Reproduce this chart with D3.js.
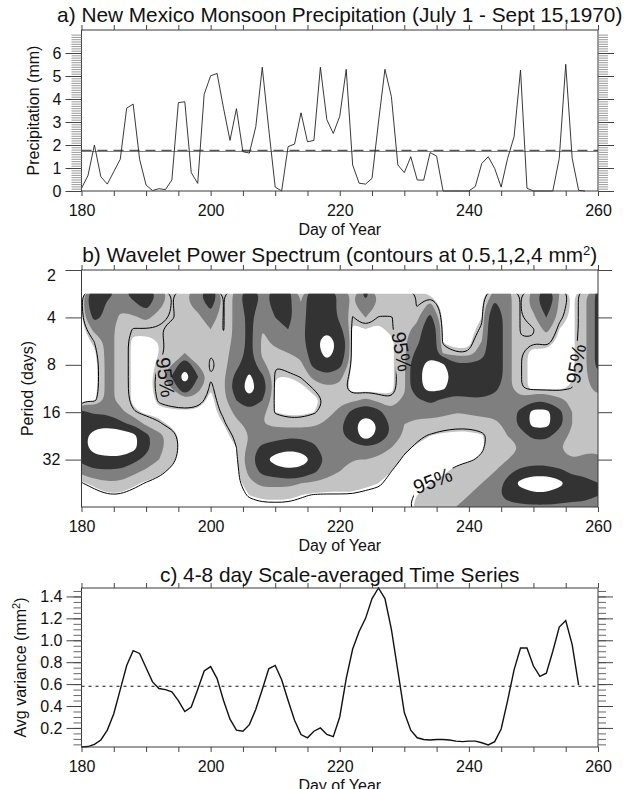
<!DOCTYPE html>
<html>
<head>
<meta charset="utf-8">
<script src="https://cdn.jsdelivr.net/npm/d3@7"></script>
<style>
  body { margin: 0; background: #fff; }
  svg text { font-family: "Liberation Sans", Arial, Helvetica, sans-serif; fill: #111; }
</style>
</head>
<body>
<svg id="chart" width="625" height="789"></svg>
<script>
// ---- values ----
const dayStart = 180;

// daily precipitation (mm), day 180 .. 258
const precip = [0.12, 0.67, 2.0, 0.62, 0.3, 0.84, 1.38, 3.6, 3.78, 1.38,
  0.26, 0.02, 0.1, 0.06, 0.48, 3.84, 3.88, 0.8, 0.33, 4.2,
  5.01, 5.11, 3.6, 2.2, 3.58, 1.71, 1.65, 2.8, 5.38, 2.7,
  0.17, 0.0, 1.93, 2.04, 3.4, 2.14, 2.2, 5.38, 3.1, 2.5,
  3.25, 5.29, 1.13, 0.34, 0.3, 0.55, 3.0, 5.29, 4.1, 1.13,
  0.8, 1.49, 0.48, 0.47, 1.67, 1.52, 0.0, 0.0, 0.0, 0.0,
  0.0, 0.2, 1.2, 1.49, 0.98, 0.17, 1.42, 2.36, 5.26, 0.12,
  0.0, 0.0, 0.0, 0.0, 1.42, 5.51, 1.42, 0.03, 0.0];
const precipMean = 1.72;   // solid line
const precipLevel = 1.77;  // dashed line

// 4-8 day scale-averaged variance (mm^2), day 180 .. 257
const avgVar = [0.026, 0.03, 0.05, 0.09, 0.18, 0.33, 0.55, 0.77, 0.905, 0.88,
  0.75, 0.62, 0.56, 0.55, 0.53, 0.45, 0.35, 0.39, 0.55, 0.72,
  0.76, 0.65, 0.45, 0.28, 0.18, 0.17, 0.23, 0.37, 0.55, 0.74,
  0.77, 0.64, 0.45, 0.27, 0.14, 0.11, 0.17, 0.2, 0.14, 0.12,
  0.3, 0.65, 0.92, 1.08, 1.2, 1.38, 1.477, 1.38, 1.1, 0.72,
  0.34, 0.18, 0.11, 0.095, 0.09, 0.095, 0.095, 0.09, 0.08, 0.075,
  0.08, 0.08, 0.065, 0.045, 0.075, 0.19, 0.45, 0.73, 0.93, 0.93,
  0.765, 0.67, 0.7, 0.9, 1.12, 1.18, 0.96, 0.59];
const avgVarLevel = 0.58;

const dayTicks = [180, 200, 220, 240, 260];
const precipTicks = [0, 1, 2, 3, 4, 5, 6];
const periodTicks = [2, 4, 8, 16, 32];
const varTicks = [0.2, 0.4, 0.6, 0.8, 1.0, 1.2, 1.4];

// wavelet power, read as half steps of log2(power): 4.5 = 1 mm^2, 2.5 = 0.5, 6.5 = 2, 8.5 = 4
// one string per day (180..260 every 2 days), periods 2^1.5 .. 2^6 every quarter octave (top to bottom)
const gridDay0 = 180, gridDayStep = 2, gridOct0 = 1.5, gridOctStep = 0.25;
const powerByDay = [
  "2 2 2 1 1 1 1 1 1 2 7 8 8 8 7 5 2 1 0",            // 180
  "8 8 7 5 3 2 1 1 1 2 6 8 9 9 8 6 3 1 1",            // 182
  "7 6 6 5 5 5 5 5 5 5 6 8 9.4 9.4 8 6 4 2 1",
  "6 5 4 4 4 4 4 4 4 4 5 7 9.5 9.5 8 6 4 2 1",
  "7 6 4 3 2 2 2 2 2 2 3 6 9 9 7 5 3 1 1",            // 188
  "8 7 5 3 2 1 1 1 1 1 2 4 7 7 6 4 2 1 0",
  "6 5 3.5 3 2.5 2.5 3 3.5 3.5 3 2 3 5 5 4.5 3 1.5 1 0",
  "3 3 3 3.5 3.5 3.5 4.5 6.6 4.5 3.5 2 2 3.5 3.5 3 2 1 1 0",
  "4 4 3.5 3.5 3.5 4.5 7.8 9.3 7.8 4 2 1.5 1 1 1 1 1 1 0",  // 196
  "6 5 4 3.5 3.5 3.5 4.5 6.6 5 3.5 2 1.5 1 1 1 1 1 1 0",
  "8 7 5.5 4.5 3.5 3 2.5 3 2.5 2 2 1.5 1 1 1 1 1 1 0",      // 200
  "3 3 3 3 3.5 3.5 3.5 4 4 3.5 3 2.5 2 1.5 1 1 1 1 0.5",
  "5 5 5 5 5 5.5 6 7 7.5 6.5 5 4 3 2.5 2 1.5 1 1 0.5",
  "8 7.5 7 7 7 7 7.5 8.8 9.2 8 6 5 4.5 5 5.5 5 4 2.5 1",
  "6 5.5 5 4.5 4 4 5 6.8 7.5 6.5 5 4.5 5 7 8 7 5 3 1.5",   // 208
  "7 7 6.5 6 5 4 3 2.5 2 2 2.5 4 5.5 7.5 9.2 7.5 5 3 1.5",
  "7 7 7 6.5 5.5 4.5 3.5 2.5 2 1.5 2 3.5 6 8 9.6 8 5 3 1.5",
  "4 4.5 5 5.5 5.5 5 4 3 2 1.5 2 3.5 6 7.8 9.4 7.8 4.5 2.5 1",
  "8 8 8 8 8 7.5 7 5 3 2 2.5 4 6 6.8 8.2 6.8 4 2 1",      // 216
  "8 8 8 8.2 9.2 9.1 8 6 4 3 3.5 5 5.5 5.5 6 5.5 3.5 2 1",
  "6 5.5 6 7 8 7.8 7 5 4 4 5 6 6 5.5 5 4.5 3.5 2 1",      // 220
  "4 4 3 2 1 1 1 1 1 4 7 8 7.5 5.5 4.5 4 3.5 2 1",
  "7 6 4.5 2.5 1 1 1 1 1 5 8 9.5 9.3 6 4.5 4 3 1.5 1",
  "4 4 3 2 1 1 1 1 1 4 7 8.4 8 5.5 4 3.5 2.5 1.5 1",
  "4 4 3 3 2 2 2 2 2 3 5 6 6 4.5 3.5 2.5 1.5 1 1",        // 228
  "4 4 4 4 4 4 4 4 4 5 4.5 4.5 4 3 2 1.5 1.2 1.2 1.5",
  "3 3 4 5 6 7 8 8 8 6 5 4 3.2 2 1.5 1.5 2 2.5 3",
  "2 5 7 8 8 8 9 9.3 9 7 5 4 2.5 1.5 1.5 2 2.5 3.5 4",
  "1 1 1 2 2 4 8.7 9 8.7 6 5 3.5 2 1.5 1.5 2.2 3 4 4",    // 236
  "1 1 1 1 1.5 3 6.8 8 7.5 5.5 4.5 3.2 2 1.5 1.8 3 4 4 4.5",
  "1 1 1 1 1.5 3 6.8 8 7.5 6 4.8 3.2 2 1.5 2.2 3.5 4.2 4.5 5", // 240
  "1.5 2 2.5 3.5 4.5 5.5 7 8 8 6 5 3.5 2.3 2.2 2.8 4 4.5 5 5",
  "5 7 8 8 8 8 8 8 7 5.5 5 4 3.5 3.5 4 4.5 5.5 6 5.5",
  "5 5 5 5 5 5 5 5 5 5 5 5 4.5 4 4.5 6 7 7 6",
  "3 3 3 3 3 3 3 3 3 5 7 7 5.5 4.5 5 7 9 7.5 6",          // 248
  "5 5 4 3 3 2 2 2 2 6 9 9 7 5 5 7.5 9.6 8 6",
  "8 7.5 6.5 5 3.5 2 1 1 2 6 9 9 7 5 5 7.5 9.6 8 6",
  "4.5 4 3.5 2.5 2 1 1 1 2 5 7 7 5.5 4.5 4.5 7 9 7.5 6",
  "2 2 2 2 2 2 2 2 3 4 4.5 4.5 4 4 4.5 6 7.5 7 6",        // 256
  "4 4 4 4 4 4 4 4 4 4 4 4 4 4 5 6 7 7 6",
  "7 7 7 7 7 7 7 6 5 4 4 4 4 4 5 5.5 6.5 6.5 6"           // 260
];
const contourLevels = [0.5, 1, 2, 4];
// 95% significance level (mm^2) for each period row, top to bottom
const sig95 = [0.62, 0.62, 0.62, 0.62, 0.58, 0.58, 0.58, 0.58, 0.58, 0.55,
  0.55, 0.55, 0.55, 0.5, 0.5, 0.5, 0.45, 0.45, 0.45];

// where the "95%" labels sit (day, period, angle)
const sigLabelSpots = [
  {day: 193.0, period: 9.6, angle: 82},
  {day: 229.6, period: 6.6, angle: 80},
  {day: 256.6, period: 7.9, angle: -80},
  {day: 234.4, period: 43.6, angle: -21}
];

// ---- drawing ----
const FONT = '"Liberation Sans", Arial, Helvetica, sans-serif';
let svg = d3.select("#chart");
let x = d3.scaleLinear().domain([180, 260]).range([81.5, 598]);
let xMid = (x.range()[0] + x.range()[1]) / 2;

function frame(top, bottom) {
    svg.append("rect")
        .attr("x", x.range()[0]).attr("y", top)
        .attr("width", x.range()[1] - x.range()[0]).attr("height", bottom - top)
        .attr("fill", "none").attr("stroke", "#3a3a3a").attr("stroke-width", 1);
}

function styleAxis(g, color) {
    g.select(".domain").remove();
    g.attr("font-size", 16).attr("font-family", FONT).attr("color", color || "#444");
    g.selectAll("text").attr("fill", "#111");
}

// day-of-year ticks on top and bottom, labels and title under the bottom
function dayAxes(top, bottom) {
    let minor = d3.range(180, 261, 5);
    svg.append("g").attr("transform", `translate(0,${top})`)
        .call(d3.axisTop(x).tickValues(minor).tickSize(5).tickFormat(""))
        .call(styleAxis);
    svg.append("g").attr("transform", `translate(0,${bottom})`)
        .call(d3.axisBottom(x).tickValues(minor).tickSize(5).tickFormat(""))
        .call(styleAxis);
    svg.append("g").attr("transform", `translate(0,${bottom})`)
        .call(d3.axisBottom(x).tickValues(dayTicks).tickSize(0).tickPadding(14).tickFormat(d3.format("d")))
        .call(styleAxis);
    svg.append("text").attr("x", xMid).attr("y", bottom + 44)
        .attr("text-anchor", "middle").attr("font-size", 16).text("Day of Year");
}

function title(y, txt) {
    return svg.append("text").attr("x", xMid).attr("y", y)
        .attr("text-anchor", "middle").attr("font-size", 20.8).text(txt);
}

function yTitle(xpos, top, bottom) {
    return svg.append("text")
        .attr("transform", `translate(${xpos},${(top + bottom) / 2}) rotate(-90)`)
        .attr("text-anchor", "middle").attr("font-size", 16);
}

// ===== a) precipitation =====
let aTop = 30, aBot = 191;
let ya = d3.scaleLinear().domain([0, 7]).range([aBot, aTop]);

svg.append("line").attr("x1", x(180)).attr("x2", x(260))
    .attr("y1", ya(precipMean)).attr("y2", ya(precipMean))
    .attr("stroke", "#777").attr("stroke-width", 1);
svg.append("line").attr("x1", x(180)).attr("x2", x(260))
    .attr("y1", ya(precipLevel)).attr("y2", ya(precipLevel))
    .attr("stroke", "#555").attr("stroke-width", 1.2).attr("stroke-dasharray", "10,6");

let precipLine = d3.line()
    .x((d, i) => x(dayStart + i))
    .y(d => ya(d));
svg.append("path").datum(precip).attr("d", precipLine)
    .attr("fill", "none").attr("stroke", "#222").attr("stroke-width", 0.9);

frame(aTop, aBot);
let aMinor = d3.range(0, 69).map(v => v / 10);
svg.append("g").attr("transform", `translate(${x.range()[0]},0)`)
    .call(d3.axisLeft(ya).tickValues(aMinor).tickSize(10).tickFormat(""))
    .call(g => styleAxis(g, "#999"));
svg.append("g").attr("transform", `translate(${x.range()[1]},0)`)
    .call(d3.axisRight(ya).tickValues(aMinor).tickSize(10).tickFormat(""))
    .call(g => styleAxis(g, "#999"));
svg.append("g").attr("transform", `translate(${x.range()[0]},0)`)
    .call(d3.axisLeft(ya).tickValues(precipTicks).tickSize(16).tickPadding(4).tickFormat(d3.format("d")))
    .call(styleAxis);
svg.append("g").attr("transform", `translate(${x.range()[1]},0)`)
    .call(d3.axisRight(ya).tickValues(precipTicks).tickSize(16).tickFormat(""))
    .call(styleAxis);
dayAxes(aTop, aBot);
title(21.5, "a) New Mexico Monsoon Precipitation (July 1 - Sept 15,1970)");
yTitle(38.5, aTop, aBot).text("Precipitation (mm)");

// ===== b) wavelet power spectrum =====
let bTop = 270, bBot = 507;
let yb = d3.scaleLog().base(2).domain([2, 64]).range([bTop, bBot]);

let cols = powerByDay.map(r => r.trim().split(/\s+/).map(Number));
let nx = cols.length, ny = cols[0].length;
let power = [], ratio = [];
for (let j = 0; j < ny; j++) {
    for (let i = 0; i < nx; i++) {
        let p = Math.pow(2, (cols[i][j] - 4.5) / 2);
        power.push(p);
        ratio.push(p / sig95[j]);
    }
}

let gridDay = gx => gridDay0 + gridDayStep * (gx - 0.5);
let gridPeriod = gy => Math.pow(2, gridOct0 + gridOctStep * (gy - 0.5));

let ringLine = d3.line()
    .x(p => x(gridDay(p[0])))
    .y(p => yb(gridPeriod(p[1])))
    .curve(d3.curveBasisClosed);

function contourPath(geom) {
    let d = "";
    geom.coordinates.forEach(poly => poly.forEach(ring => {
        d += ringLine(ring.slice(0, -1));
    }));
    return d;
}

let defs = svg.append("defs");
defs.append("clipPath").attr("id", "bclip").append("rect")
    .attr("x", x(180)).attr("y", yb(Math.pow(2, gridOct0)))
    .attr("width", x(260) - x(180)).attr("height", yb(64) - yb(Math.pow(2, gridOct0)));

let fills = ["#c3c3c3", "#7f7f7f", "#333333", "#ffffff"];
let bands = d3.contours().size([nx, ny]).thresholds(contourLevels)(power);
let gFill = svg.append("g").attr("clip-path", "url(#bclip)");
gFill.selectAll("path").data(bands).join("path")
    .attr("d", contourPath)
    .attr("fill", (d, i) => fills[i])
    .attr("fill-rule", "evenodd");

// 95% contour with gaps for the labels
let mask = defs.append("mask").attr("id", "lblmask");
mask.append("rect").attr("x", 0).attr("y", 0).attr("width", 625).attr("height", 789).attr("fill", "white");
sigLabelSpots.forEach(s => {
    mask.append("rect").attr("x", -23).attr("y", -9).attr("width", 46).attr("height", 18)
        .attr("transform", `translate(${x(s.day)},${yb(s.period)}) rotate(${s.angle})`)
        .attr("fill", "black");
});
let sigLines = d3.contours().size([nx, ny]).thresholds([1])(ratio);
svg.append("g").attr("clip-path", "url(#bclip)")
    .append("g").attr("mask", "url(#lblmask)")
    .selectAll("path").data(sigLines).join("path")
    .attr("d", contourPath)
    .attr("fill", "none").attr("stroke", "#000").attr("stroke-width", 1);

sigLabelSpots.forEach(s => {
    svg.append("text")
        .attr("transform", `translate(${x(s.day)},${yb(s.period)}) rotate(${s.angle})`)
        .attr("text-anchor", "middle").attr("dominant-baseline", "central")
        .attr("font-size", 20).text("95%");
});

frame(bTop, bBot);
svg.append("g").attr("transform", `translate(${x.range()[0]},0)`)
    .call(d3.axisLeft(yb).tickValues(periodTicks).tickSize(16).tickFormat(d3.format("d")))
    .call(styleAxis)
    .call(g => g.selectAll("text").attr("text-anchor", "middle").attr("x", -30))
    .call(g => g.selectAll("text").filter(d => d === 2).attr("dy", "0.65em"));
svg.append("g").attr("transform", `translate(${x.range()[1]},0)`)
    .call(d3.axisRight(yb).tickValues(periodTicks).tickSize(14).tickFormat(""))
    .call(styleAxis);
dayAxes(bTop, bBot);
let tb = title(262, "b) Wavelet Power Spectrum (contours at 0.5,1,2,4 mm");
tb.append("tspan").attr("baseline-shift", "super").attr("font-size", 13).text("2");
tb.append("tspan").text(")");
yTitle(32.5, bTop, bBot).text("Period (days)");

// ===== c) scale-averaged time series =====
let cTop = 588, cBot = 747;
let yc = d3.scaleLinear().domain(d3.extent(avgVar)).range([cBot, cTop]);

svg.append("line").attr("x1", x(180)).attr("x2", x(260))
    .attr("y1", yc(avgVarLevel)).attr("y2", yc(avgVarLevel))
    .attr("stroke", "#111").attr("stroke-width", 1.1).attr("stroke-dasharray", "3,4");

let varLine = d3.line()
    .x((d, i) => x(dayStart + i))
    .y(d => yc(d));
svg.append("path").datum(avgVar).attr("d", varLine)
    .attr("fill", "none").attr("stroke", "#111").attr("stroke-width", 1.4);

frame(cTop, cBot);
let cMinor = d3.range(1, 30).map(v => v * 0.05);
svg.append("g").attr("transform", `translate(${x.range()[0]},0)`)
    .call(d3.axisLeft(yc).tickValues(cMinor).tickSize(8).tickFormat(""))
    .call(g => styleAxis(g, "#666"));
svg.append("g").attr("transform", `translate(${x.range()[1]},0)`)
    .call(d3.axisRight(yc).tickValues(cMinor).tickSize(8).tickFormat(""))
    .call(g => styleAxis(g, "#666"));
svg.append("g").attr("transform", `translate(${x.range()[0]},0)`)
    .call(d3.axisLeft(yc).tickValues(varTicks).tickSize(15).tickPadding(4).tickFormat(d3.format(".1f")))
    .call(styleAxis);
svg.append("g").attr("transform", `translate(${x.range()[1]},0)`)
    .call(d3.axisRight(yc).tickValues(varTicks).tickSize(15).tickFormat(""))
    .call(styleAxis);
dayAxes(cTop, cBot);
title(581.5, "c) 4-8 day Scale-averaged Time Series");
let tc = yTitle(26, cTop, cBot).text("Avg variance (mm");
tc.append("tspan").attr("baseline-shift", "super").attr("font-size", 11).text("2");
tc.append("tspan").text(")");
</script>
</body>
</html>
